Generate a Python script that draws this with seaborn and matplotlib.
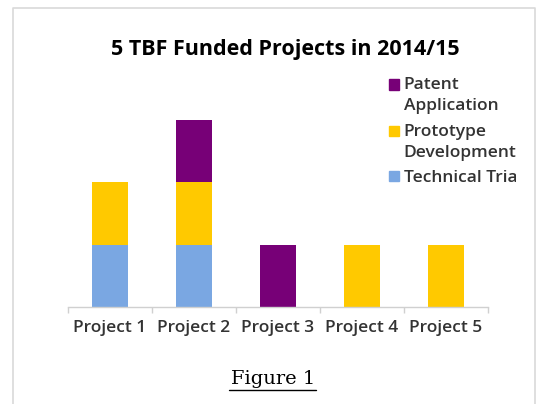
import numpy as np
import matplotlib
matplotlib.use("Agg")
import matplotlib.pyplot as plt
from matplotlib.lines import Line2D
from matplotlib.patches import Patch, Rectangle
from matplotlib.legend_handler import HandlerPatch
from matplotlib.transforms import Bbox, TransformedBbox
import seaborn as sns

projects = ["Project 1", "Project 2", "Project 3", "Project 4", "Project 5"]
technical_trial = [1, 1, 0, 0, 0]
prototype_dev = [1, 1, 0, 1, 1]
patent_app = [0, 1, 1, 0, 0]

series_labels = ["Patent\nApplication", "Prototype\nDevelopment", "Technical Trial"]
colors = {"tech": "#7AA7E2", "proto": "#FFC900", "patent": "#770077"}


def top_square(legend, orig_handle, xdescent, ydescent, width, height, fontsize):
    # put the marker next to the first line of a two-line label
    return Rectangle((-xdescent, -ydescent + 0.63 * fontsize), width, height)


def main():
    sns.set_theme(style="white")
    plt.rcParams["font.family"] = ["Open Sans", "DejaVu Sans"]

    fig = plt.figure(figsize=(5.4, 4.04), dpi=100)
    ax = fig.add_axes([68 / 540, 1 - 307 / 404, 420 / 540, 200 / 404])

    tech = np.array(technical_trial, dtype=float)
    proto = np.array(prototype_dev, dtype=float)
    pat = np.array(patent_app, dtype=float)

    sns.barplot(x=projects, y=tech, order=projects, color=colors["tech"],
                saturation=1, width=0.42, linewidth=0, ax=ax)
    sns.barplot(x=projects, y=proto, order=projects, color=colors["proto"],
                saturation=1, width=0.42, linewidth=0, bottom=tech, ax=ax)
    sns.barplot(x=projects, y=pat, order=projects, color=colors["patent"],
                saturation=1, width=0.42, linewidth=0, bottom=tech + proto, ax=ax)

    ax.set_xlim(-0.5, len(projects) - 0.5)
    ax.set_ylim(0, 3.2)
    ax.set_yticks([])
    ax.set_xlabel("")
    ax.set_ylabel("")
    for s in ["top", "left", "right"]:
        ax.spines[s].set_visible(False)
    ax.spines["bottom"].set_color("#D0D0D0")
    ax.spines["bottom"].set_linewidth(1.0)
    ax.set_xticks(np.arange(-0.5, len(projects)), minor=True)
    ax.tick_params(axis="x", which="major", length=0, pad=9,
                   labelsize=12.5, labelcolor="#333333")
    ax.tick_params(axis="x", which="minor", length=4, width=1,
                   color="#D0D0D0", direction="out", bottom=True)
    for lbl in ax.get_xticklabels():
        lbl.set_fontweight(600)

    # legend (reverse stacking order)
    h_pat = Patch(color=colors["patent"])
    h_proto = Patch(color=colors["proto"])
    h_tech = Patch(color=colors["tech"])
    leg = fig.legend([h_pat, h_proto, h_tech], series_labels, loc="upper left",
                     bbox_to_anchor=(389 / 540, 1 - 77 / 404),
                     handler_map={h_pat: HandlerPatch(patch_func=top_square),
                                  h_proto: HandlerPatch(patch_func=top_square)},
                     frameon=False, fontsize=12.5, handlelength=0.55,
                     handleheight=0.55, handletextpad=0.3, labelspacing=0.53,
                     borderaxespad=0, borderpad=0)
    clip = TransformedBbox(Bbox([[0, 0], [516 / 540, 1]]), fig.transFigure)
    for t in leg.get_texts():
        t.set_color("#333333")
        t.set_fontweight(600)
        t.set_linespacing(1.45)
        t.set_clip_box(clip)
        t.set_clip_on(True)

    fig.text(0.528, 1 - 50 / 404, "5 TBF Funded Projects in 2014/15",
             ha="center", va="center", fontsize=15.5, fontweight="bold",
             color="black")

    # chart frame
    fig.add_artist(Line2D([13 / 540, 13 / 540, 535 / 540, 535 / 540],
                          [0, 1 - 8 / 404, 1 - 8 / 404, 0],
                          transform=fig.transFigure, color="#D9D9D9", lw=1.2))

    # caption
    fig.text(0.505, 1 - 379 / 404, "Figure 1", ha="center", va="center",
             fontsize=14, family="DejaVu Serif", color="black")
    fig.add_artist(Line2D([229 / 540, 316 / 540], [1 - 390 / 404, 1 - 390 / 404],
                          transform=fig.transFigure, color="black", lw=1.0))

    fig.savefig("out.png", dpi=100)


if __name__ == "__main__":
    main()
